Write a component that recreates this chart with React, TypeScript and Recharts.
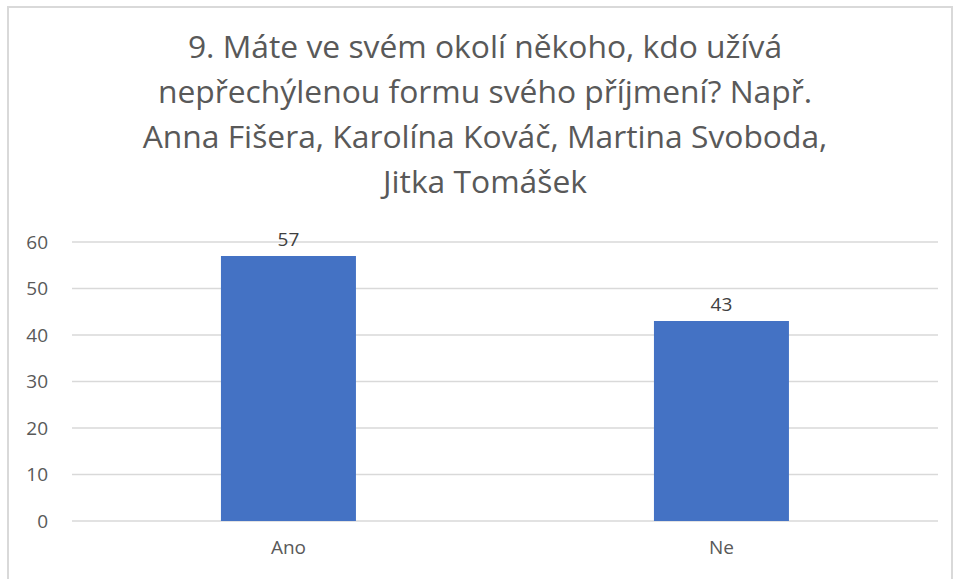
import React from 'react';
import { BarChart, Bar, XAxis, YAxis, CartesianGrid, LabelList } from 'recharts';

const categories = ['Ano', 'Ne'];
const counts = [57, 43];
const yTicks = [0, 10, 20, 30, 40, 50, 60];
const titleLines = [
  '9. Máte ve svém okolí někoho, kdo užívá',
  'nepřechýlenou formu svého příjmení? Např.',
  'Anna Fišera, Karolína Kováč, Martina Svoboda,',
  'Jitka Tomášek',
];

const data = categories.map((name, i) => ({ name, value: counts[i] }));

const FONT = '"Open Sans", sans-serif';
const GREY = '#595959';

const App: React.FC = () => {
  return (
    <div style={{ position: 'absolute', left: 0, top: 0, width: 955, height: 579, overflow: 'hidden', background: '#fff', fontFamily: FONT }}>
      {/* chart border */}
      <div style={{ position: 'absolute', left: 7, top: 6, width: 946, height: 600, border: '2px solid #d9d9d9', boxSizing: 'border-box' }} />
      {/* title */}
      <div style={{ position: 'absolute', left: 0, top: 23, width: 970, textAlign: 'center', color: GREY, fontSize: 31.8, lineHeight: '45px', whiteSpace: 'nowrap' }}>
        {titleLines.map((l, i) => <div key={i}>{l}</div>)}
      </div>
      <div style={{ position: 'absolute', left: 0, top: 0 }}>
        <BarChart width={955} height={579} data={data} margin={{ top: 242, right: 17, bottom: 0, left: 0 }} barCategoryGap="34.4%">
          <CartesianGrid vertical={false} stroke="#d9d9d9" strokeWidth={1.5} />
          <YAxis
            width={72}
            domain={[0, 60]}
            ticks={yTicks}
            axisLine={false}
            tickLine={false}
            tickSize={0}
            tickMargin={24}
            tick={{ fill: GREY, fontSize: 19, fontFamily: FONT }}
          />
          <XAxis
            dataKey="name"
            height={58}
            axisLine={false}
            tickLine={false}
            tickSize={0}
            tickMargin={20}
            tick={{ fill: GREY, fontSize: 19, fontFamily: FONT }}
          />
          <Bar dataKey="value" fill="#4472c4" isAnimationActive={false}>
            <LabelList dataKey="value" position="top" offset={10} fill="#404040" style={{ fontSize: 19, fontFamily: FONT }} />
          </Bar>
        </BarChart>
      </div>
    </div>
  );
};

export default App;
